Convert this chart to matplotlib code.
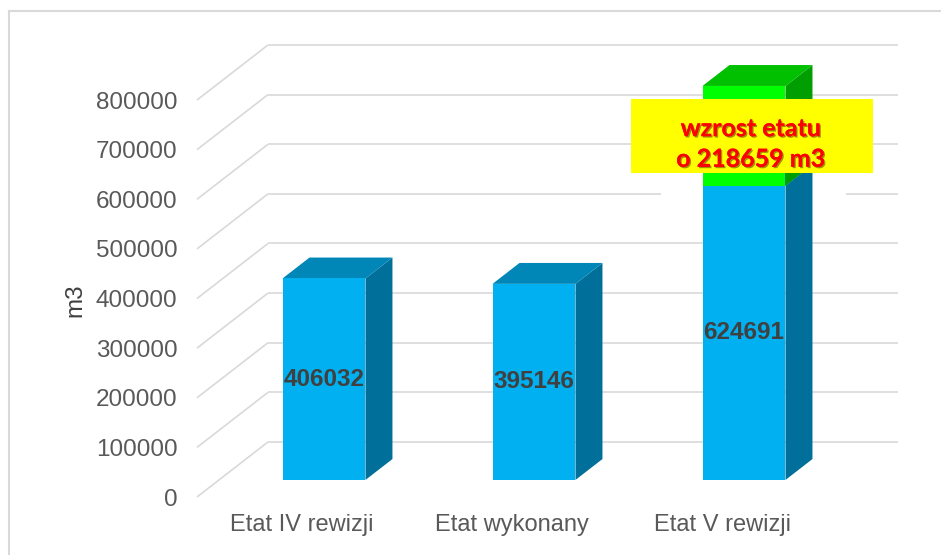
import matplotlib
matplotlib.use("Agg")
import matplotlib.pyplot as plt
import matplotlib.patheffects as pe
from matplotlib.patches import Polygon, Rectangle
from matplotlib.lines import Line2D

# data
categories = ["Etat IV rewizji", "Etat wykonany", "Etat V rewizji"]
bar_heights = [406032, 395146, 593000]      # drawn heights
bar_labels = ["406032", "395146", "624691"]  # printed values
increase_height = [0, 0, 201000]             # green part on top
increase_text = "wzrost etatu\no 218659 m3"
yticks = [0, 100000, 200000, 300000, 400000, 500000, 600000, 700000, 800000]

# fake-3d geometry (in data units)
DX = 0.338        # horizontal shift front -> back wall (categories)
DY = 110887       # vertical shift front -> back wall (m3)
D0 = 0.31         # bar front at this depth
DD = 0.38         # bar depth
W = 0.395         # bar width

grid_c = "#D9D9D9"
txt_c = "#595959"
front_c, top_c, side_c = "#00B0F0", "#0087B8", "#006F99"
gfront_c, gtop_c, gside_c = "#00FF00", "#00C000", "#009E00"

plt.rcParams["font.family"] = ["Liberation Sans", "DejaVu Sans"]

fig = plt.figure(figsize=(9.41, 5.55), dpi=100)
ax = fig.add_axes([197 / 941, 58 / 555, 701 / 941, 452 / 555])
ax.set_xlim(-0.5, 2.5 + DX)
ax.set_ylim(0, yticks[-1] + DY)
for s in ax.spines.values():
    s.set_visible(False)

# gridlines: left wall diagonals + back wall
for v in yticks:
    ax.plot([-0.5, -0.5 + DX], [v, v + DY], color=grid_c, lw=1.2, zorder=1,
            clip_on=False, solid_capstyle="butt")
    ax.plot([-0.5 + DX, 2.5 + DX], [v + DY, v + DY], color=grid_c, lw=1.2,
            zorder=1, clip_on=False, solid_capstyle="butt")

# white backing behind the note box
ax.add_patch(Rectangle((0.662, 0.666), 0.264, 0.221, transform=ax.transAxes,
                       facecolor="white", edgecolor="none", zorder=2))


def box3d(xc, y0, h, fc, tc, sc):
    l, r = xc - W / 2, xc + W / 2
    ddx, ddy = DD * DX, DD * DY
    ax.add_patch(Polygon([(r, y0), (r + ddx, y0 + ddy), (r + ddx, y0 + h + ddy),
                          (r, y0 + h)], closed=True, fc=sc, ec="none", zorder=3))
    ax.add_patch(Polygon([(l, y0 + h), (r, y0 + h), (r + ddx, y0 + h + ddy),
                          (l + ddx, y0 + h + ddy)], closed=True, fc=tc, ec="none", zorder=3))
    ax.add_patch(Rectangle((l, y0), W, h, fc=fc, ec="none", zorder=4))


for i, (h, g, lab) in enumerate(zip(bar_heights, increase_height, bar_labels)):
    xc = i + D0 * DX
    y0 = D0 * DY
    box3d(xc, y0, h, front_c, top_c, side_c)
    if g:
        box3d(xc, y0 + h, g, gfront_c, gtop_c, gside_c)
    ax.text(xc, y0 + h / 2, lab, ha="center", va="center", fontsize=17.5,
            fontweight="bold", color="#404040", zorder=6)

# note box
ax.add_patch(Rectangle((0.619, 0.717), 0.345, 0.164, transform=ax.transAxes,
                       facecolor="#FFFF00", edgecolor="none", zorder=7))
ax.text(0.79, 0.781, increase_text, transform=ax.transAxes, ha="center",
        va="center", fontsize=18, fontweight="bold", color="#FF0000",
        family=["Lato", "DejaVu Sans"], linespacing=1.4, zorder=8,
        path_effects=[pe.withSimplePatchShadow(offset=(1, -1), shadow_rgbFace="#6a4a00",
                                               alpha=0.6), pe.Normal()])

ax.set_yticks(yticks)
ax.set_yticklabels([str(v) for v in yticks])
ax.set_xticks(range(len(categories)))
ax.set_xticklabels(categories)
ax.tick_params(axis="y", length=0, pad=14, labelsize=17.5, labelcolor=txt_c)
ax.tick_params(axis="x", length=0, pad=12, labelsize=17, labelcolor=txt_c)
ax.set_ylabel("m3", fontsize=17.5, color="#404040")
ax.yaxis.set_label_coords(-0.158, 0.436)

# outer chart border (only top and left visible)
fig.add_artist(Line2D([8.5 / 941, 8.5 / 941], [0, 1 - 10.5 / 555], color=grid_c, lw=1.5))
fig.add_artist(Line2D([8.5 / 941, 1], [1 - 10.5 / 555, 1 - 10.5 / 555], color=grid_c, lw=1.5))

fig.savefig("out.png", dpi=100)
